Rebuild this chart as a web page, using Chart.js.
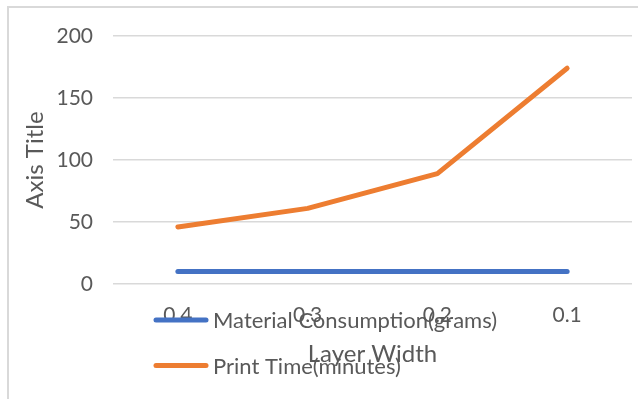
<!DOCTYPE html>
<html>
<head>
<meta charset="utf-8">
<script src="https://cdn.jsdelivr.net/npm/chart.js@4/dist/chart.umd.min.js"></script>
<style>
  html, body { margin: 0; padding: 0; background: #fff; }
  #wrap { position: relative; width: 638px; height: 399px; overflow: hidden; }
  #frame { position: absolute; left: 7px; top: 6px; width: 700px; height: 500px;
           border-left: 2px solid #d9d9d9; border-top: 2px solid #d9d9d9; box-sizing: border-box; }
  canvas { position: absolute; left: 0; top: 0; }
</style>
</head>
<body>
<div id="wrap">
  <div id="frame"></div>
  <canvas id="c" width="638" height="399"></canvas>
</div>
<script>
// Layer width categories and measured results
const layerWidths = ['0.4', '0.3', '0.2', '0.1'];
const materialGrams = [10, 10, 10, 10];
const printMinutes = [46, 61, 89, 174];
const seriesNames = ['Material Consumption(grams)', 'Print Time(minutes)'];
const yTicks = [0, 50, 100, 150, 200];

const FONT = 'Lato, "Open Sans", "Liberation Sans", sans-serif';
const TEXT = '#595959';

// Legend drawn as a stacked list over the lower part of the canvas
const stackedLegend = {
  id: 'stackedLegend',
  afterDraw(chart) {
    const ctx = chart.ctx;
    ctx.save();
    ctx.font = '22px ' + FONT;
    ctx.fillStyle = TEXT;
    ctx.textBaseline = 'middle';
    chart.data.datasets.forEach((ds, i) => {
      const y = 320 + i * 45.5;
      ctx.strokeStyle = ds.borderColor;
      ctx.lineWidth = 5;
      ctx.lineCap = 'round';
      ctx.beginPath();
      ctx.moveTo(156, y);
      ctx.lineTo(206, y);
      ctx.stroke();
      ctx.fillText(ds.label, 213, y + 1);
    });
    ctx.restore();
  }
};

new Chart(document.getElementById('c'), {
  type: 'line',
  data: {
    labels: layerWidths,
    datasets: [
      { label: seriesNames[0], data: materialGrams, borderColor: '#4472C4', backgroundColor: '#4472C4' },
      { label: seriesNames[1], data: printMinutes, borderColor: '#ED7D31', backgroundColor: '#ED7D31' }
    ]
  },
  options: {
    responsive: false,
    animation: false,
    layout: { padding: { left: 0, top: 36, right: 6, bottom: 0 } },
    elements: {
      line: { borderWidth: 5, tension: 0, borderCapStyle: 'round', borderJoinStyle: 'round' },
      point: { radius: 0 }
    },
    plugins: { legend: { display: false }, tooltip: { enabled: false } },
    scales: {
      x: {
        offset: true,
        grid: { display: false, drawTicks: false, tickLength: 0 },
        border: { display: false },
        ticks: { color: TEXT, font: { family: FONT, size: 21 }, padding: 19 },
        title: { display: true, text: 'Layer Width', color: TEXT, font: { family: FONT, size: 24 }, padding: { top: 0, bottom: 30 } },
        afterFit(s) { s.height = 399 - 284; }
      },
      y: {
        min: 0, max: 200,
        afterBuildTicks(s) { s.ticks = yTicks.map(v => ({ value: v })); },
        grid: { color: '#d9d9d9', lineWidth: 1.5, drawTicks: false, tickLength: 0 },
        border: { display: false },
        ticks: { color: TEXT, font: { family: FONT, size: 21 }, padding: 20 },
        title: { display: true, text: 'Axis Title', color: TEXT, font: { family: FONT, size: 24 }, padding: { top: 21, bottom: 0 } },
        afterFit(s) { s.width = 113; }
      }
    }
  },
  plugins: [stackedLegend]
});
</script>
</body>
</html>
